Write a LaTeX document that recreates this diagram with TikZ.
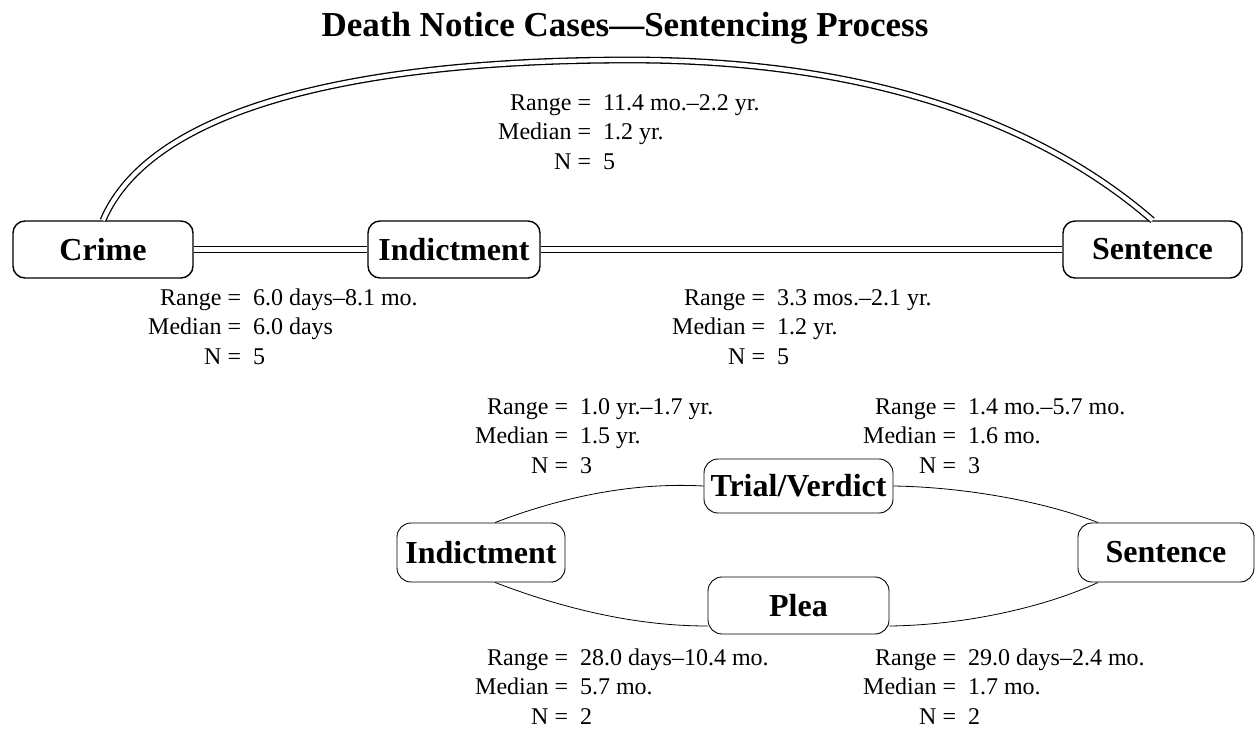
\documentclass[tikz,border=0pt]{standalone}
\usepackage{fontspec}
\setmainfont{Liberation Serif}
\newcommand\statblock[3]{\begin{tabular}[t]{@{}r@{\ =\ \ }l@{}}Range & #1\\ Median & #2\\ N & #3\end{tabular}}
\begin{document}
\begin{tikzpicture}[x=1pt,y=-1pt,
  topbox/.style={draw, line width=1.4pt, rounded corners=12pt, inner sep=0pt, minimum height=57pt, font=\fontsize{32}{34}\selectfont\bfseries},
  lowbox/.style={draw, line width=0.9pt, rounded corners=14pt, inner sep=0pt, font=\fontsize{32}{34}\selectfont\bfseries},
  dbl/.style={draw, line width=1.3pt, double, double distance=4.2pt},
  thinline/.style={draw, line width=0.8pt},
  stat/.style={anchor=base west, inner sep=0pt, font=\fontsize{24}{29.5}\selectfont}
]
\useasboundingbox (0,0) rectangle (1257,731);
\node[font=\fontsize{35}{37}\selectfont\bfseries] (title) at (625,28) {Death Notice Cases---Sentencing Process};

\node[topbox, minimum width=180pt] (crime) at (103,249.5) {Crime};
\node[topbox, minimum width=172pt] (ind) at (454,249.5) {Indictment};
\node[topbox, minimum width=179pt] (sent) at (1152.5,249.5) {Sentence};

\draw[dbl] (crime.east) -- (ind.west);
\draw[dbl] (ind.east) -- (sent.west);
\draw[dbl] (crime.north) .. controls (150,110) and (350,60) .. (630,60)
  .. controls (900,60) and (1060,140) .. (sent.north);

\node[stat] (s1) at (498,110) {\statblock{11.4 mo.--2.2 yr.}{1.2 yr.}{5}};
\node[stat] (s2) at (148,305) {\statblock{6.0 days--8.1 mo.}{6.0 days}{5}};
\node[stat] (s3) at (672,305) {\statblock{3.3 mos.--2.1 yr.}{1.2 yr.}{5}};

\node[lowbox, minimum width=168pt, minimum height=59pt] (ind2) at (481,552.5) {Indictment};
\node[lowbox, minimum width=189pt, minimum height=54pt] (trial) at (798.5,486) {Trial/Verdict};
\node[lowbox, minimum width=181pt, minimum height=57pt] (plea) at (798.5,605.5) {Plea};
\node[lowbox, minimum width=176pt, minimum height=59pt] (sent2) at (1166,552.5) {Sentence};

\draw[thinline] ([xshift=14pt]ind2.north) .. controls (580,490) and (650,483) .. (trial.west);
\draw[thinline] ([xshift=14pt]ind2.south) .. controls (580,615) and (650,626) .. ([yshift=-20.5pt]plea.west);
\draw[thinline] (trial.east) .. controls (960,487) and (1040,500) .. ([xshift=-68pt]sent2.north);
\draw[thinline] ([yshift=-20.5pt]plea.east) .. controls (970,625) and (1050,605) .. ([xshift=-68pt]sent2.south);

\node[stat] (s4) at (475,414) {\statblock{1.0 yr.--1.7 yr.}{1.5 yr.}{3}};
\node[stat] (s5) at (863,414) {\statblock{1.4 mo.--5.7 mo.}{1.6 mo.}{3}};
\node[stat] (s6) at (475,665) {\statblock{28.0 days--10.4 mo.}{5.7 mo.}{2}};
\node[stat] (s7) at (863,665) {\statblock{29.0 days--2.4 mo.}{1.7 mo.}{2}};
\end{tikzpicture}
\end{document}
